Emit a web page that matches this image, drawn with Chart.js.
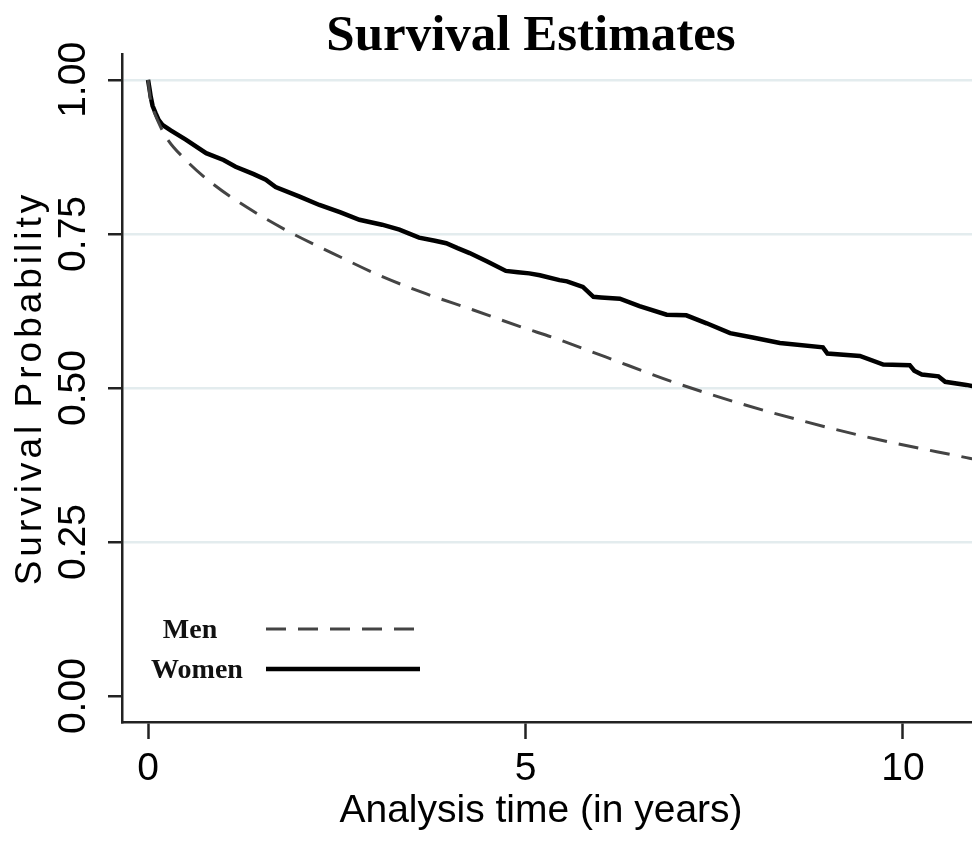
<!DOCTYPE html>
<html>
<head>
<meta charset="utf-8">
<script src="https://cdn.jsdelivr.net/npm/chart.js@4/dist/chart.umd.min.js"></script>
<style>
  body { margin: 0; background: #fff; }
  #wrap { width: 972px; height: 858px; }
</style>
</head>
<body>
<div id="wrap"><canvas id="myChart"></canvas></div>
<script>
// survival curves (time in years, probability)
const womenTime = [0, 0.02, 0.035, 0.06, 0.10, 0.14, 0.19, 0.30, 0.50, 0.77, 1.0, 1.16, 1.40, 1.56, 1.69, 2.0, 2.27, 2.55, 2.80, 3.10, 3.33, 3.59, 3.80, 3.95, 4.10, 4.26, 4.50, 4.74, 4.90, 5.05, 5.19, 5.45, 5.55, 5.76, 5.90, 6.00, 6.25, 6.51, 6.87, 7.13, 7.40, 7.71, 8.01, 8.37, 8.94, 9.00, 9.43, 9.74, 10.09, 10.15, 10.25, 10.47, 10.56, 10.84, 10.92];
const womenSurv = [1.0, 0.985, 0.973, 0.958, 0.946, 0.935, 0.927, 0.918, 0.903, 0.881, 0.870, 0.859, 0.847, 0.838, 0.826, 0.811, 0.797, 0.785, 0.773, 0.765, 0.757, 0.744, 0.739, 0.735, 0.727, 0.719, 0.705, 0.690, 0.688, 0.686, 0.683, 0.675, 0.673, 0.664, 0.648, 0.647, 0.645, 0.633, 0.619, 0.618, 0.605, 0.589, 0.582, 0.573, 0.566, 0.556, 0.552, 0.538, 0.537, 0.528, 0.522, 0.519, 0.510, 0.505, 0.503];
const menTime = [0, 0.03, 0.06, 0.10, 0.235, 0.50, 0.85, 1.30, 1.83, 2.44, 3.06, 3.68, 4.30, 4.92, 5.41, 6.07, 6.95, 7.84, 8.72, 9.61, 10.84, 10.92];
const menSurv = [1.0, 0.970, 0.955, 0.942, 0.908, 0.870, 0.832, 0.794, 0.756, 0.719, 0.683, 0.653, 0.627, 0.600, 0.580, 0.550, 0.510, 0.475, 0.445, 0.418, 0.387, 0.385];

const xTicks = [0, 5, 10];
const yTicks = [0, 0.25, 0.5, 0.75, 1];
const yTickLabels = ["0.00", "0.25", "0.50", "0.75", "1.00"];

const toPoints = (ts, ys) => ts.map((t, i) => ({ x: t, y: ys[i] }));

// legend drawn inside the plot, text first then line sample
const innerLegend = {
  id: "innerLegend",
  afterDatasetsDraw(chart) {
    const ctx = chart.ctx;
    const rows = [
      { ds: chart.data.datasets[0], y: 629, tx: 190 },
      { ds: chart.data.datasets[1], y: 669, tx: 197 }
    ];
    ctx.save();
    ctx.font = "bold 28px 'Liberation Serif', 'Times New Roman', serif";
    ctx.fillStyle = "#111";
    ctx.textAlign = "center";
    ctx.textBaseline = "middle";
    rows.forEach((r) => {
      ctx.fillText(r.ds.label, r.tx, r.y + 2);
      ctx.beginPath();
      ctx.strokeStyle = r.ds.borderColor;
      ctx.lineWidth = r.ds.borderWidth;
      ctx.setLineDash(r.ds.borderDash || []);
      ctx.moveTo(266, r.y);
      ctx.lineTo(420, r.y);
      ctx.stroke();
    });
    ctx.restore();
  }
};

// wrap a scale's title drawing with a little extra canvas state
function patchTitle(scale, fn) {
  if (scale._patched) return;
  const orig = scale.drawTitle;
  scale.drawTitle = function () {
    this.ctx.save();
    fn(this.ctx);
    orig.call(this);
    this.ctx.restore();
  };
  scale._patched = true;
}

// title sits a bit right of canvas centre; y title is spaced out
const tweaks = {
  id: "tweaks",
  afterLayout(chart) {
    if (chart.titleBlock) chart.titleBlock.left = 90;
  },
  beforeDraw(chart) {
    patchTitle(chart.scales.y, (c) => { c.letterSpacing = "4px"; });
    patchTitle(chart.scales.x, (c) => { c.translate(-6, 0); });
  }
};

const ctx = document.getElementById("myChart").getContext("2d");
const chart = new Chart(ctx, {
  type: "line",
  data: {
    datasets: [
      {
        label: "Men",
        data: toPoints(menTime, menSurv),
        borderColor: "#444",
        borderWidth: 3,
        borderDash: [20, 12],
        pointRadius: 0,
        cubicInterpolationMode: "monotone",
        fill: false
      },
      {
        label: "Women",
        data: toPoints(womenTime, womenSurv),
        borderColor: "#000",
        borderWidth: 4.5,
        pointRadius: 0,
        tension: 0,
        fill: false
      }
    ]
  },
  options: {
    responsive: true,
    maintainAspectRatio: false,
    animation: false,
    layout: { padding: 0 },
    plugins: {
      legend: { display: false },
      tooltip: { enabled: false },
      title: {
        display: true,
        text: "Survival Estimates",
        color: "#000",
        font: { family: "'Liberation Serif', 'Times New Roman', serif", size: 51, weight: "bold", lineHeight: 1 },
        padding: { top: 11, bottom: -8 }
      }
    },
    scales: {
      x: {
        type: "linear",
        min: -0.345,
        max: 10.915,
        afterBuildTicks: (s) => { s.ticks = xTicks.map((v) => ({ value: v })); },
        afterFit: (s) => { s.height = 136; },
        ticks: {
          color: "#000",
          padding: 7,
          font: { family: "'Liberation Sans', Arial, sans-serif", size: 39 },
          callback: (v) => String(v)
        },
        grid: {
          drawOnChartArea: false,
          tickLength: 17,
          tickColor: "#222",
          tickWidth: 2.5
        },
        border: { color: "#222", width: 2.5 },
        title: {
          display: true,
          text: "Analysis time (in years)",
          color: "#000",
          font: { family: "'Liberation Sans', Arial, sans-serif", size: 39 },
          padding: { top: 1, bottom: 23 }
        }
      },
      y: {
        type: "linear",
        min: -0.042,
        max: 1.042,
        afterBuildTicks: (s) => { s.ticks = yTicks.map((v) => ({ value: v })); },
        afterFit: (s) => { s.width = 122; },
        ticks: {
          color: "#000",
          padding: -4,
          minRotation: 90,
          maxRotation: 90,
          crossAlign: "center",
          font: { family: "'Liberation Sans', Arial, sans-serif", size: 39 },
          callback: (v) => yTickLabels[yTicks.indexOf(v)]
        },
        grid: {
          color: (c) => (c.tick && c.tick.value === 0 ? "rgba(0,0,0,0)" : "#e3ecee"),
          lineWidth: 2.5,
          tickLength: 14,
          tickColor: "#222",
          tickWidth: 2.5
        },
        border: { color: "#222", width: 2.5 },
        title: {
          display: true,
          text: "Survival Probability",
          color: "#000",
          font: { family: "'Liberation Sans', Arial, sans-serif", size: 37 },
          padding: { top: 9, bottom: 0 }
        }
      }
    }
  },
  plugins: [innerLegend, tweaks]
});
</script>
</body>
</html>
